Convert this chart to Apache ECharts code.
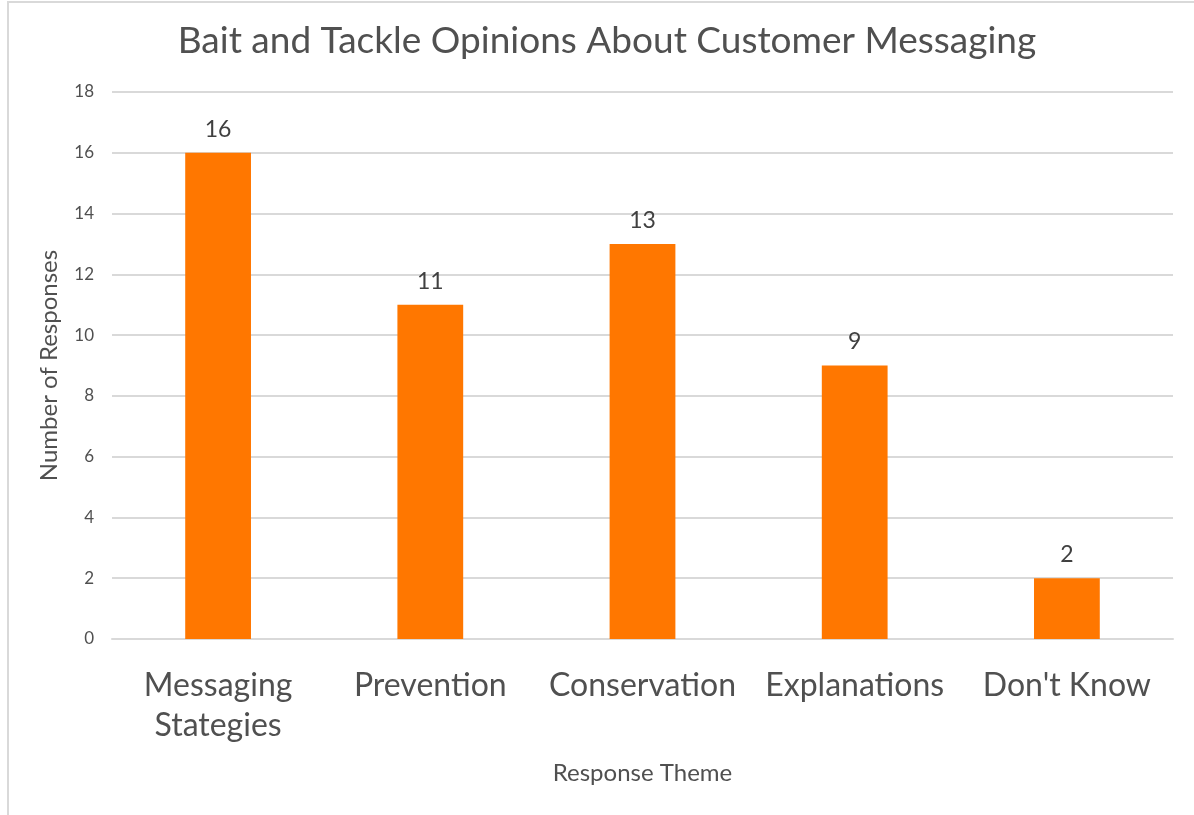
<!DOCTYPE html>
<html>
<head>
<meta charset="utf-8">
<script src="https://cdn.jsdelivr.net/npm/echarts@6/dist/echarts.min.js"></script>
<style>
  html, body { margin: 0; padding: 0; background: #fff; }
  #chart { width: 1194px; height: 815px; }
</style>
</head>
<body>
<div id="chart"></div>
<script>
// Survey results: response themes and their counts
const categories = ['Messaging\nStategies', 'Prevention', 'Conservation', 'Explanations', "Don't Know"];
const responses = [16, 11, 13, 9, 2];
const yTicks = { min: 0, max: 18, interval: 2 };

const FONT = 'Lato, "Open Sans", sans-serif';
const chart = echarts.init(document.getElementById('chart'));

chart.setOption({
  backgroundColor: '#ffffff',
  animation: false,
  graphic: [{
    type: 'rect',
    shape: { x: 8, y: 2, width: 1400, height: 1000 },
    style: { fill: 'none', stroke: '#d9d9d9', lineWidth: 2 },
    silent: true
  }],
  title: {
    text: 'Bait and Tackle Opinions About Customer Messaging',
    left: 602, top: 18, textAlign: 'center',
    textStyle: { fontFamily: FONT, fontSize: 37, fontWeight: 'normal', color: '#505050' }
  },
  grid: { left: 112, right: 21, top: 92, bottom: 176, containLabel: false },
  xAxis: {
    type: 'category',
    data: categories,
    name: 'Response Theme',
    nameLocation: 'middle',
    nameGap: 122,
    nameTextStyle: { fontFamily: FONT, fontSize: 24, color: '#505050' },
    axisLine: { show: true, lineStyle: { color: '#d9d9d9', width: 2 } },
    axisTick: { show: false },
    axisLabel: {
      fontFamily: FONT, fontSize: 32, color: '#505050',
      lineHeight: 40, margin: 27, interval: 0
    }
  },
  yAxis: {
    type: 'value',
    min: yTicks.min, max: yTicks.max, interval: yTicks.interval,
    name: 'Number of Responses',
    nameLocation: 'middle',
    nameGap: 51,
    nameTextStyle: { fontFamily: FONT, fontSize: 24, color: '#505050' },
    axisLine: { show: false },
    axisTick: { show: false },
    axisLabel: { fontFamily: FONT, fontSize: 17, color: '#505050', margin: 18 },
    splitLine: { lineStyle: { color: '#d9d9d9', width: 2 } }
  },
  series: [{
    type: 'bar',
    data: responses,
    barWidth: '31%',
    itemStyle: { color: '#ff7700' },
    label: {
      show: true, position: 'top', distance: 12,
      fontFamily: FONT, fontSize: 23, color: '#404040'
    }
  }]
});
</script>
</body>
</html>
